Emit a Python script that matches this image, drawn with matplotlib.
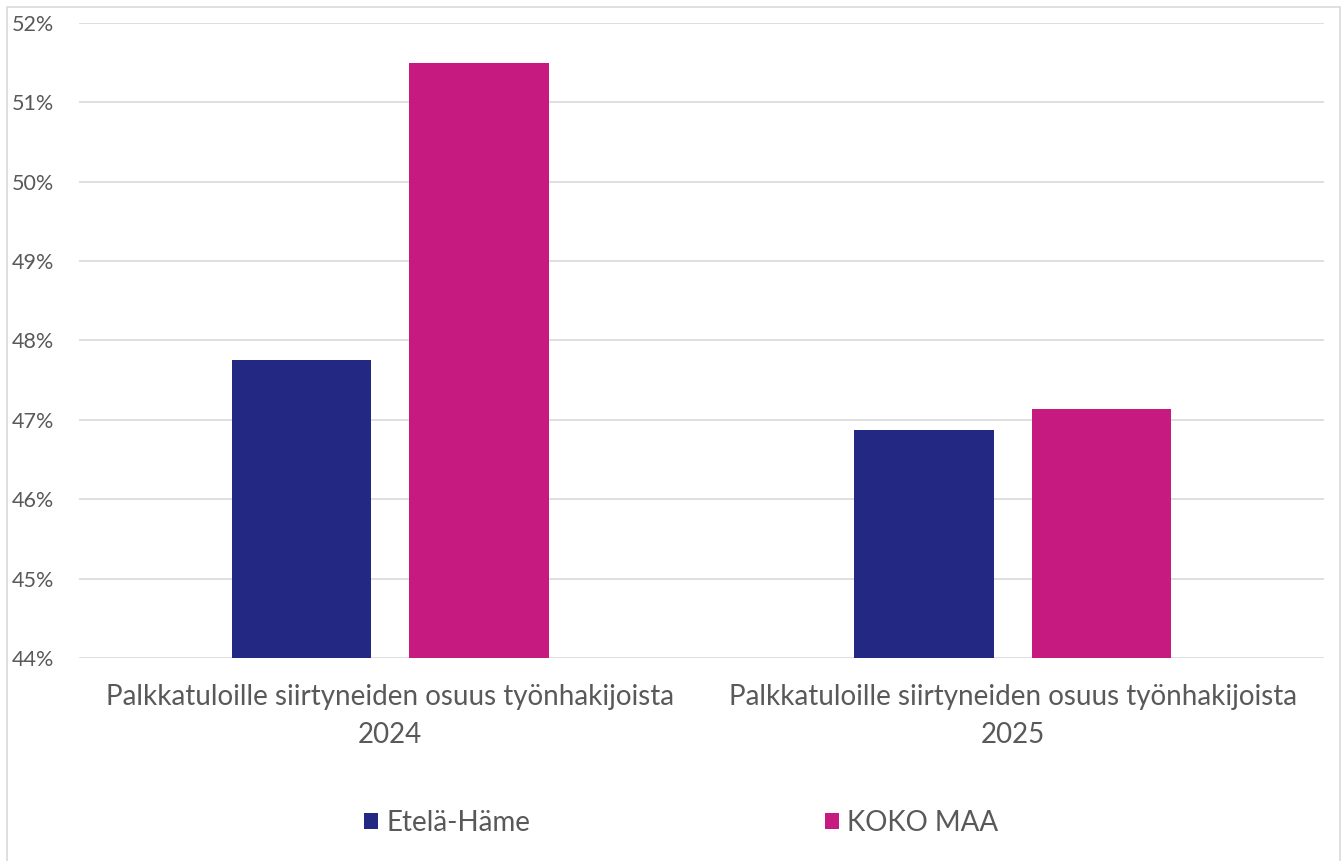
import matplotlib
matplotlib.use('Agg')
import matplotlib.pyplot as plt
import numpy as np
from matplotlib.patches import Rectangle
from matplotlib.ticker import FuncFormatter

categories = ['Palkkatuloille siirtyneiden osuus työnhakijoista\n2024',
              'Palkkatuloille siirtyneiden osuus työnhakijoista\n2025']
series_names = ['Etelä-Häme', 'KOKO MAA']
etela_hame = [47.75, 46.87]
koko_maa = [51.50, 47.14]
colors = ['#232882', '#C71A80']
text_color = '#595959'

plt.rcParams['font.family'] = ['Lato', 'DejaVu Sans']

fig = plt.figure(figsize=(13.41, 8.61), dpi=100)
ax = fig.add_axes([0.0589, 0.2358, 0.9284, 0.7375])

x = np.arange(len(categories))
w = 0.224
off = 0.1426
ax.bar(x - off, etela_hame, w, color=colors[0], label=series_names[0], zorder=3)
ax.bar(x + off, koko_maa, w, color=colors[1], label=series_names[1], zorder=3)

ax.set_xlim(-0.5, 1.5)
ax.set_ylim(44, 52)
ax.set_yticks(np.arange(44, 53, 1))
ax.yaxis.set_major_formatter(FuncFormatter(lambda v, p: f'{v:.0f}%'))
ax.set_xticks(x)
ax.set_xticklabels(categories, linespacing=1.55, fontsize=20)
ax.tick_params(axis='both', length=0, colors=text_color)
ax.tick_params(axis='y', pad=18, labelsize=15.5)
ax.tick_params(axis='x', pad=19)
ax.grid(axis='y', color='#D9D9D9', linewidth=1.2, zorder=0)
for s in ax.spines.values():
    s.set_visible(False)

leg = fig.legend(loc='center', bbox_to_anchor=(0.508, 0.044), ncol=2, frameon=False,
                 fontsize=20, handlelength=0.5, handleheight=0.5, handletextpad=0.3,
                 columnspacing=10.6)
for t in leg.get_texts():
    t.set_color(text_color)

fig.patches.append(Rectangle((7 / 1341, -0.01), 1333 / 1341, 1 - 7 / 861 + 0.01,
                             transform=fig.transFigure, fill=False,
                             edgecolor='#D9D9D9', linewidth=1.2))

fig.savefig('out.png', dpi=100, facecolor='white')
